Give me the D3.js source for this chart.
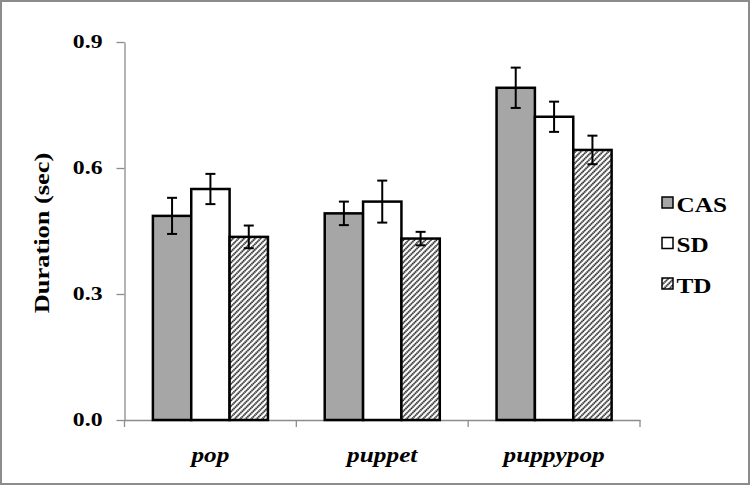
<!DOCTYPE html>
<html>
<head>
<meta charset="utf-8">
<script src="https://cdn.jsdelivr.net/npm/d3@7"></script>
<style>
body { margin: 0; background: #fff; }
svg { display: block; }
</style>
</head>
<body>
<div id="chart"></div>
<script>
// data
var words = ["pop", "puppet", "puppypop"];
var groups = ["CAS", "SD", "TD"];
var CAS = [0.486, 0.492, 0.791];
var SD = [0.550, 0.520, 0.722];
var TD = [0.436, 0.432, 0.643];
var CASerr = [0.043, 0.028, 0.048];
var SDerr = [0.036, 0.050, 0.036];
var TDerr = [0.027, 0.016, 0.034];
var yTicks = [0.0, 0.3, 0.6, 0.9];

var means = { CAS: CAS, SD: SD, TD: TD };
var errs = { CAS: CASerr, SD: SDerr, TD: TDerr };

var W = 751, H = 486;
var margin = {top: 42, left: 124.5, right: 111, bottom: 66};
var width = W - margin.left - margin.right,
    height = H - margin.top - margin.bottom;

var font = "Liberation Serif";

var svg = d3.select("#chart").append("svg")
    .attr("width", W).attr("height", H);

// the picture is a bit wider than tall, so text is stretched sideways
function stretch(sel, k) {
    sel.each(function() {
        var len = this.getComputedTextLength();
        d3.select(this).attr("textLength", len * k).attr("lengthAdjust", "spacingAndGlyphs");
    });
}

// hatch pattern for TD
var hs = 3.9;
var defs = svg.append("defs");
var pat = defs.append("pattern")
    .attr("id", "hatch")
    .attr("patternUnits", "userSpaceOnUse")
    .attr("width", hs).attr("height", hs)
    .attr("patternTransform", "rotate(45)");
pat.append("rect").attr("width", hs).attr("height", hs).attr("fill", "#fff");
pat.append("line")
    .attr("x1", 1).attr("y1", 0).attr("x2", 1).attr("y2", hs)
    .attr("stroke", "#000").attr("stroke-width", 1.6)
    .attr("stroke-dasharray", "1.4,0.55");

var fills = { CAS: "#a6a6a6", SD: "#ffffff", TD: "url(#hatch)" };

// frame
svg.append("rect")
    .attr("x", 1).attr("y", 1).attr("width", W - 3).attr("height", H - 3)
    .attr("fill", "none").attr("stroke", "#8c8c8c").attr("stroke-width", 2);

var g = svg.append("g")
    .attr("transform", "translate(" + margin.left + "," + margin.top + ")");

var x0 = d3.scaleBand().domain(words).range([0, width]).padding(0);
var x1 = d3.scaleBand().domain(groups).range([0, x0.bandwidth()])
    .paddingInner(0).paddingOuter(0.74);
var y = d3.scaleLinear().domain([0, 0.9]).range([height, 0]);

// y axis
var yAxis = g.append("g")
    .call(d3.axisLeft(y).tickValues(yTicks).tickFormat(d3.format(".1f")).tickSize(8).tickSizeOuter(0));
yAxis.select(".domain").attr("stroke", "#8c8c8c").attr("stroke-width", 1.3);
yAxis.selectAll(".tick line").attr("stroke", "#8c8c8c").attr("stroke-width", 1.3);
yAxis.selectAll(".tick text")
    .attr("x", -22).attr("dy", "0.3em")
    .attr("font-family", font)
    .attr("font-weight", "bold").attr("font-size", 19)
    .attr("fill", "#000")
    .call(stretch, 1.25);

// x axis
var xAxis = g.append("g")
    .attr("transform", "translate(0," + height + ")")
    .call(d3.axisBottom(x0).tickSize(0).tickSizeOuter(0));
xAxis.select(".domain").attr("stroke", "#8c8c8c").attr("stroke-width", 1.3);
xAxis.selectAll(".tick text")
    .attr("y", 42).attr("dy", 0)
    .attr("font-family", font)
    .attr("font-weight", "bold").attr("font-style", "italic")
    .attr("font-size", 22).attr("fill", "#000")
    .call(stretch, 1.15);
// boundary ticks between categories
g.append("g").selectAll("line")
    .data(words.concat(["_end"]))
    .join("line")
    .attr("x1", function(d, i){ return i * x0.step(); })
    .attr("x2", function(d, i){ return i * x0.step(); })
    .attr("y1", height).attr("y2", height + 7)
    .attr("stroke", "#8c8c8c").attr("stroke-width", 1.3);

// y title
g.append("text")
    .attr("transform", "translate(" + (48.5 - margin.left) + "," + (233 - margin.top) + ") rotate(-90)")
    .attr("text-anchor", "middle")
    .attr("font-family", font)
    .attr("font-weight", "bold").attr("font-size", 22)
    .text("Duration (sec)")
    .call(stretch, 1.2);

// bars
var rows = [];
words.forEach(function(w, i) {
    groups.forEach(function(s) {
        rows.push({ word: w, grp: s, v: means[s][i], e: errs[s][i] });
    });
});

var bar = g.selectAll(".bar").data(rows).join("g").attr("class", "bar")
    .attr("transform", function(d){ return "translate(" + (x0(d.word) + x1(d.grp)) + ",0)"; });

bar.append("rect")
    .attr("y", function(d){ return y(d.v); })
    .attr("width", x1.bandwidth())
    .attr("height", function(d){ return height - y(d.v); })
    .attr("fill", function(d){ return fills[d.grp]; })
    .attr("stroke", "#000").attr("stroke-width", 2.5);

// error bars
var cx = x1.bandwidth() / 2, cap = 5;
bar.append("line")
    .attr("x1", cx).attr("x2", cx)
    .attr("y1", function(d){ return y(d.v + d.e); })
    .attr("y2", function(d){ return y(d.v - d.e); })
    .attr("stroke", "#000").attr("stroke-width", 2);
bar.append("line")
    .attr("x1", cx - cap).attr("x2", cx + cap)
    .attr("y1", function(d){ return y(d.v + d.e); })
    .attr("y2", function(d){ return y(d.v + d.e); })
    .attr("stroke", "#000").attr("stroke-width", 2);
bar.append("line")
    .attr("x1", cx - cap).attr("x2", cx + cap)
    .attr("y1", function(d){ return y(d.v - d.e); })
    .attr("y2", function(d){ return y(d.v - d.e); })
    .attr("stroke", "#000").attr("stroke-width", 2);

// legend
var leg = svg.append("g").attr("transform", "translate(662,202.5)");
var li = leg.selectAll("g").data(groups).join("g")
    .attr("transform", function(d, i){ return "translate(0," + (i * 40.5) + ")"; });
li.append("rect")
    .attr("x", 0).attr("y", -5.5).attr("width", 11).attr("height", 11)
    .attr("fill", function(d){ return fills[d]; })
    .attr("stroke", "#000").attr("stroke-width", 1.5);
li.append("text")
    .attr("x", 14.5).attr("y", 9)
    .attr("font-family", font)
    .attr("font-weight", "bold").attr("font-size", 21)
    .text(function(d){ return d; })
    .call(stretch, 1.2);
</script>
</body>
</html>
